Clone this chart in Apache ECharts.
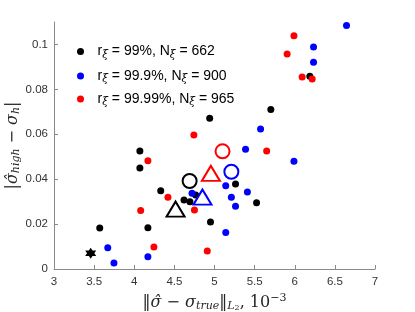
<!DOCTYPE html>
<html><head><meta charset="utf-8">
<script src="https://cdn.jsdelivr.net/npm/echarts@6/dist/echarts.min.js"></script>
<style>html,body{margin:0;padding:0;background:#fff}#c{width:415px;height:312px}</style>
</head><body><div id="c"></div>
<script>
// Data
const black = [[3.57,0.0183],[4.07,0.0526],[4.07,0.045],[4.17,0.0184],[4.33,0.0349],[4.62,0.0307],[4.694,0.030],[4.765,0.033],[4.94,0.0671],[4.95,0.0209],[5.262,0.0379],[5.524,0.0295],[5.702,0.071],[6.188,0.0858]];
const blue = [[3.67,0.0095],[3.747,0.0027],[4.17,0.0055],[4.72,0.0337],[5.14,0.0371],[5.14,0.0163],[5.21,0.0319],[5.262,0.0279],[5.387,0.0533],[5.41,0.0343],[5.574,0.0624],[5.99,0.048],[6.234,0.0989],[6.234,0.0921],[6.645,0.1084]];
const red = [[4.08,0.026],[4.17,0.0482],[4.245,0.0098],[4.42,0.0319],[4.743,0.0597],[4.75,0.0263],[4.91,0.008],[5.65,0.0526],[5.905,0.0958],[5.99,0.1039],[6.092,0.0855],[6.217,0.0846]];
const circleBlack = [[4.69,0.0392]];
const circleBlue = [[5.21,0.0433]];
const circleRed = [[5.10,0.0524]];
const triBlack = [[4.515,0.0267]];
const triBlue = [[4.85,0.032]];
const triRed = [[4.955,0.0426]];
const star = [[3.457,0.007]];
const legendNames = ['s1','s2','s3'];
const legendR = ['99%','99.9%','99.99%'];
const legendN = ['662','900','965'];

const chart = echarts.init(document.getElementById('c'), null, {renderer:'canvas'});
const SANS = 'Liberation Sans';
const SERIF = 'DejaVu Serif';
const legendRich = {
  m:{fontFamily:SANS,fontSize:14,color:'#000',lineHeight:18,verticalAlign:'middle'},
  s:{fontFamily:SERIF,fontStyle:'italic',fontSize:10.5,color:'#000',lineHeight:10,padding:[10,0,0,0],verticalAlign:'bottom'}
};
function mkLegend(i, top){
  return {
    data:[legendNames[i]], left:77, top:top, orient:'vertical', icon:'circle',
    itemWidth:24, itemHeight:7, padding:0,
    formatter:function(){ return '{m|r}{s|ξ}{m| = '+legendR[i]+', N}{s|ξ}{m| = '+legendN[i]+'}'; },
    textStyle:{rich:legendRich}
  };
}
const dot = (name, data, color) => ({type:'scatter', name:name, data:data, symbol:'circle', symbolSize:7, itemStyle:{color:color, opacity:1}, z:3});
const open = (data, color, sym, size) => ({type:'scatter', data:data, symbol:sym, symbolSize:size, itemStyle:{color:'rgba(0,0,0,0)', borderColor:color, borderWidth:2, opacity:1}, z:4});
const mathRich = {
  i:{fontFamily:SERIF,fontStyle:'italic',fontSize:16,color:'#262626'},
  n:{fontFamily:SERIF,fontSize:16,color:'#262626'},
  si:{fontFamily:SERIF,fontStyle:'italic',fontSize:11,color:'#262626',padding:[7,0,0,0],verticalAlign:'bottom'},
  sn:{fontFamily:SERIF,fontSize:11,color:'#262626',padding:[0,0,8,0],verticalAlign:'top'},
  ss:{fontFamily:SERIF,fontSize:8,color:'#262626',padding:[11,0,0,0],verticalAlign:'bottom'}
};
chart.setOption({
  animation:false,
  grid:{left:54,right:40,top:22,bottom:43,containLabel:false,outerBoundsMode:'none'},
  legend:[mkLegend(0,39.5), mkLegend(1,64), mkLegend(2,87)],
  xAxis:{type:'value', min:3, max:7, interval:0.5,
    name:'{n|‖}{i|σ̂}{n| − }{i|σ}{si|true}{n|‖}{si|L}{ss|2}{n|, 10}{sn|−3}',
    nameLocation:'middle', nameGap:24, nameMoveOverlap:false,
    nameTextStyle:{rich:mathRich},
    axisLine:{lineStyle:{color:'#8a8a8a',width:1}},
    axisTick:{inside:true,length:4,lineStyle:{color:'#8a8a8a'}},
    axisLabel:{fontFamily:SANS,fontSize:11.5,color:'#333',margin:7},
    splitLine:{show:false}},
  yAxis:{type:'value', min:0, max:0.11, interval:0.02,
    name:'{n||}{i|σ̂}{si|high}{n| − }{i|σ}{si|h}{n||}',
    nameLocation:'middle', nameGap:32, nameRotate:90, nameMoveOverlap:false,
    nameTextStyle:{rich:mathRich},
    axisLine:{lineStyle:{color:'#8a8a8a',width:1}},
    axisTick:{inside:true,length:4,lineStyle:{color:'#8a8a8a'}},
    axisLabel:{fontFamily:SANS,fontSize:11.5,color:'#333',margin:6,showMaxLabel:false},
    splitLine:{show:false}},
  series:[
    dot(legendNames[0], black, '#000000'),
    dot(legendNames[1], blue, '#0000ff'),
    dot(legendNames[2], red, '#ff0000'),
    open(circleBlack,'#000000','circle',14),
    open(circleBlue,'#0000ff','circle',14),
    open(circleRed,'#ff0000','circle',14),
    open(triBlack,'#000000','triangle',[18,15]),
    open(triBlue,'#0000ff','triangle',[18,15]),
    open(triRed,'#ff0000','triangle',[18,15]),
    {type:'scatter', data:star, symbol:'path://M0,-10 L8.66,5 L-8.66,5 Z M0,10 L-8.66,-5 L8.66,-5 Z', symbolSize:11, itemStyle:{color:'#000',opacity:1}, z:3}
  ]
});
</script></body></html>
